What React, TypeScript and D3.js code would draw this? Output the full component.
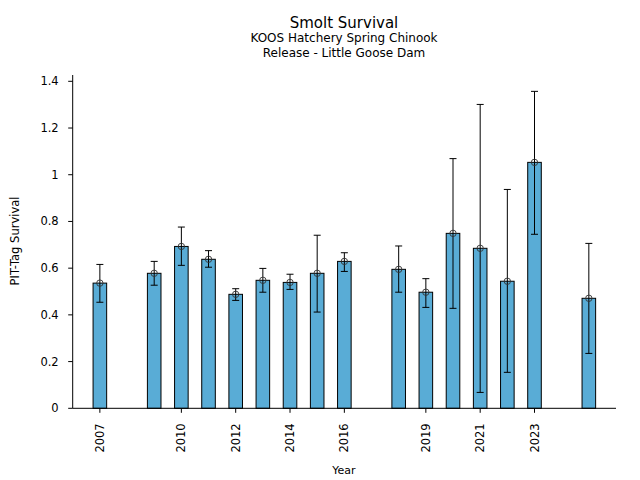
import React from "react";
import * as d3 from "d3";

const years = [2007, 2009, 2010, 2011, 2012, 2013, 2014, 2015, 2016, 2018, 2019, 2020, 2021, 2022, 2023, 2025];
const survival = [0.536, 0.578, 0.693, 0.638, 0.488, 0.548, 0.539, 0.578, 0.629, 0.595, 0.497, 0.749, 0.685, 0.544, 1.053, 0.471];
const upper = [0.616, 0.629, 0.776, 0.675, 0.512, 0.599, 0.574, 0.741, 0.666, 0.695, 0.555, 1.069, 1.301, 0.937, 1.357, 0.706];
const lower = [0.454, 0.527, 0.612, 0.604, 0.462, 0.497, 0.509, 0.412, 0.586, 0.497, 0.432, 0.428, 0.068, 0.154, 0.745, 0.235];
const yTicks = [0, 0.2, 0.4, 0.6, 0.8, 1, 1.2, 1.4];
const xTickYears = years.filter((_, i) => i % 2 === 0);

const W = 640, H = 480;
const left = 72.7, right = 616, top = 75, bottom = 408.3;

export default function App() {
  const x = d3.scaleLinear().domain([2006, 2026]).range([left, right]);
  const y = d3.scaleLinear().domain([0, 1.427]).range([bottom, top]);
  const bw = x(2006.5) - x(2006);
  const font = "DejaVu Sans, sans-serif";
  return (
    <svg width={W} height={H} style={{ position: "absolute", left: 0, top: 0 }} fontFamily={font}>
      <rect width={W} height={H} fill="#fff" />
      <text x={344} y={28} textAnchor="middle" fontSize={15}>Smolt Survival</text>
      <text x={344} y={42} textAnchor="middle" fontSize={12}>KOOS Hatchery Spring Chinook</text>
      <text x={344} y={57} textAnchor="middle" fontSize={12}>Release - Little Goose Dam</text>
      {years.map((yr, i) => (
        <rect key={yr} x={x(yr) - bw / 2} y={y(survival[i])} width={bw} height={y(0) - y(survival[i])}
          fill="#59acd6" stroke="#000" strokeWidth={1} />
      ))}
      {years.map((yr, i) => (
        <g key={"e" + yr} stroke="#000" strokeWidth={1}>
          <line x1={x(yr)} x2={x(yr)} y1={y(lower[i])} y2={y(upper[i])} />
          <line x1={x(yr) - 3.5} x2={x(yr) + 3.5} y1={y(lower[i])} y2={y(lower[i])} />
          <line x1={x(yr) - 3.5} x2={x(yr) + 3.5} y1={y(upper[i])} y2={y(upper[i])} />
          <circle cx={x(yr)} cy={y(survival[i])} r={3.2} fill="none" stroke="#333" strokeWidth={0.9} />
        </g>
      ))}
      <line x1={left} x2={left} y1={top} y2={bottom} stroke="#000" strokeWidth={1} />
      <line x1={left} x2={right} y1={bottom} y2={bottom} stroke="#000" strokeWidth={1} />
      {yTicks.map((t) => (
        <g key={t}>
          <line x1={left - 4.5} x2={left} y1={y(t)} y2={y(t)} stroke="#000" />
          <text x={left - 14} y={y(t)} dy="0.35em" textAnchor="end" fontSize={11.5}>{String(t)}</text>
        </g>
      ))}
      {xTickYears.map((t) => (
        <g key={t}>
          <line x1={x(t)} x2={x(t)} y1={bottom} y2={bottom + 4.5} stroke="#000" />
          <text transform={`translate(${x(t)},${bottom + 15}) rotate(-90)`} dy="0.35em" textAnchor="end" fontSize={11.5}>{t}</text>
        </g>
      ))}
      <text x={344} y={474} textAnchor="middle" fontSize={11}>Year</text>
      <text transform={`translate(19,241) rotate(-90)`} textAnchor="middle" fontSize={11.5}>PIT-Tag Survival</text>
    </svg>
  );
}
